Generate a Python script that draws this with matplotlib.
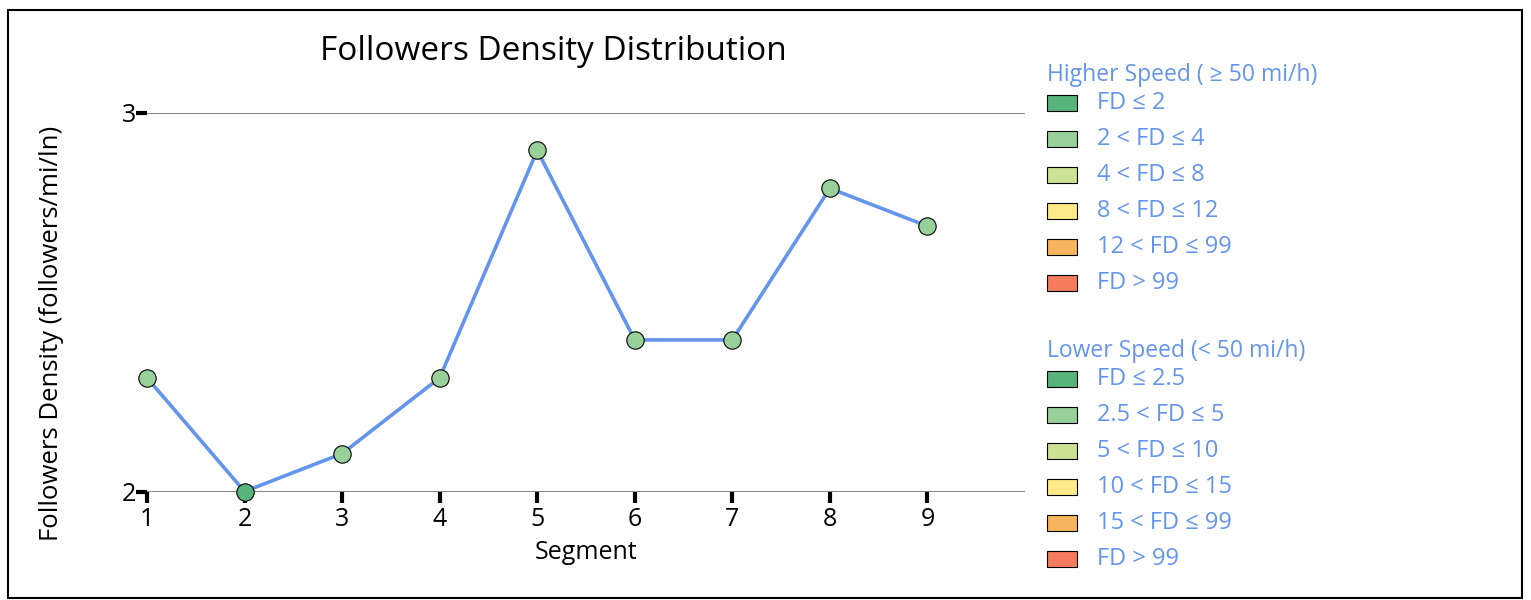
import matplotlib.pyplot as plt
from matplotlib.patches import Rectangle

plt.rcParams['font.family'] = ['Open Sans', 'DejaVu Sans']

# Datos
segmentos = [1, 2, 3, 4, 5, 6, 7, 8, 9]
densidad = [2.3, 2.0, 2.1, 2.3, 2.9, 2.4, 2.4, 2.8, 2.7]

colores_bins = ['#57b57c', '#98d099', '#cce293', '#fee987', '#f8b45d', '#f47b5b']
etiquetas_alta = ['FD ≤ 2', '2 < FD ≤ 4', '4 < FD ≤ 8', '8 < FD ≤ 12', '12 < FD ≤ 99', 'FD > 99']
etiquetas_baja = ['FD ≤ 2.5', '2.5 < FD ≤ 5', '5 < FD ≤ 10', '10 < FD ≤ 15', '15 < FD ≤ 99', 'FD > 99']
limites_alta = [2, 4, 8, 12, 99]

azul = '#6495ed'


def color_punto(v):
    for i, lim in enumerate(limites_alta):
        if v <= lim:
            return colores_bins[i]
    return colores_bins[-1]


W, H = 1531, 600
fig = plt.figure(figsize=(W / 100, H / 100), dpi=100)

# marco exterior
fig.patches.append(Rectangle((8 / W, 1 - 598 / H), 1514 / W, 588 / H, transform=fig.transFigure,
                             fill=False, edgecolor='black', linewidth=1.5))

ax = fig.add_axes([147 / W, 1 - 491.5 / H, 878 / W, 379 / H])
for yv in [2, 3]:
    ax.axhline(yv, color='#707070', linewidth=1.2, zorder=1)
ax.plot(segmentos, densidad, color=azul, linewidth=2.6, zorder=2, clip_on=False)
for x, y in zip(segmentos, densidad):
    ax.plot(x, y, 'o', markersize=12.5, markerfacecolor=color_punto(y), markeredgecolor='black',
            markeredgewidth=0.8, zorder=3, clip_on=False)

ax.set_xlim(1, 10)
ax.set_ylim(2, 3)
ax.set_xticks(segmentos)
ax.set_yticks([2, 3])
for s in ax.spines.values():
    s.set_visible(False)
ax.tick_params(axis='x', length=8, width=3, color='black', labelsize=18, pad=3)
ax.tick_params(axis='y', length=8, width=3, color='black', labelsize=18, pad=0)
ax.set_xlabel('Segment', fontsize=18, labelpad=6)
fig.text(52 / W, 1 - 333 / H, 'Followers Density (followers/mi/ln)', rotation=90,
         ha='center', va='center', fontsize=18.5)
fig.text(553 / W, 1 - 52 / H, 'Followers Density Distribution', ha='center', va='center', fontsize=24)


# leyenda manual
def bloque(y_titulo, titulo, etiquetas):
    fig.text(1047 / W, 1 - y_titulo / H, titulo, color=azul, fontsize=16.5, ha='left', va='center')
    for i, (c, t) in enumerate(zip(colores_bins, etiquetas)):
        yc = y_titulo + 28 + 36 * i
        fig.patches.append(Rectangle((1047 / W, 1 - (yc + 8) / H), 30 / W, 16 / H,
                                     transform=fig.transFigure, facecolor=c,
                                     edgecolor='black', linewidth=0.8))
        fig.text(1097 / W, 1 - yc / H, t, color=azul, fontsize=17, ha='left', va='center')


bloque(75, 'Higher Speed ( ≥ 50 mi/h)', etiquetas_alta)
bloque(351, 'Lower Speed (< 50 mi/h)', etiquetas_baja)

fig.savefig('out.png', dpi=100)
